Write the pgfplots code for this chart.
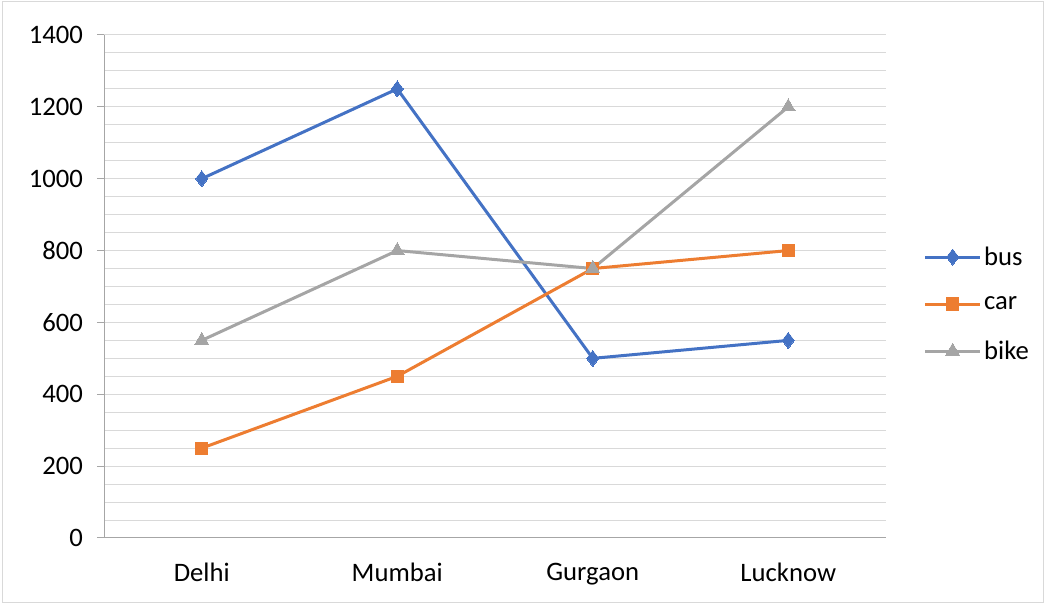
\documentclass[border=0pt]{standalone}
\usepackage{fontspec}
\setmainfont{Carlito}
\usepackage{pgfplots}
\pgfplotsset{compat=1.18}
\definecolor{cbus}{HTML}{4472C4}
\definecolor{ccar}{HTML}{ED7D31}
\definecolor{cbike}{HTML}{A5A5A5}
\definecolor{cgrid}{HTML}{D9D9D9}
\definecolor{caxis}{HTML}{A6A6A6}
\begin{document}
\begin{tikzpicture}
\path[use as bounding box] (0,0) rectangle (783.75pt,453.75pt);
\draw[cgrid, line width=0.75pt] (1.5pt,1.5pt) rectangle (782.25pt,452.25pt);
\begin{axis}[
  at={(78pt,50.25pt)}, anchor=south west,
  scale only axis, width=586.5pt, height=377.25pt,
  xmin=-0.5, xmax=3.5, ymin=0, ymax=1400,
  xtick={0,1,2,3}, xticklabels={Delhi,Mumbai,Gurgaon,Lucknow},
  minor xtick={-0.5,0.5,1.5,2.5,3.5},
  ytick={0,200,...,1400}, minor ytick={50,100,...,1350},
  ymajorgrids, yminorgrids,
  major grid style={cgrid, line width=0.75pt},
  minor grid style={cgrid, line width=0.75pt},
  axis x line*=bottom, axis y line*=left,
  axis line style={caxis, line width=0.75pt},
  tick align=outside,
  x tick style={draw=none},
  minor x tick style={caxis, line width=0.75pt},
  y tick style={caxis, line width=0.75pt},
  minor y tick style={draw=none},
  major tick length=5.25pt, minor tick length=6pt,
  /pgf/number format/assume math mode=true,
  /pgf/number format/1000 sep={},
  ticklabel style={font=\fontsize{20}{24}\selectfont, text=black},
  yticklabel style={xshift=-7pt},
  xticklabel style={yshift=-10pt},
  legend style={at={(1.048,0.465)}, anchor=west, draw=none, fill=none,
    font=\fontsize{20}{24}\selectfont, row sep=18pt, inner sep=0pt},
  legend cell align=left,
  legend image code/.code={\draw[mark repeat=2,mark phase=2,#1] plot coordinates {(0pt,0pt) (20.5pt,0pt) (41pt,0pt)};},
  every axis plot/.append style={line width=2.25pt},
]
\addplot[cbus, mark=diamond*, mark size=6pt, mark options={solid, line width=0pt}] coordinates {(0,1000) (1,1250) (2,500) (3,550)};
\addlegendentry{bus}
\addplot[ccar, mark=square*, mark size=4.6pt, mark options={solid, line width=0pt}] coordinates {(0,250) (1,450) (2,750) (3,800)};
\addlegendentry{car}
\addplot[cbike, mark=triangle*, mark size=6pt, mark options={solid, line width=0pt}] coordinates {(0,550) (1,800) (2,750) (3,1200)};
\addlegendentry{bike}
\end{axis}
\end{tikzpicture}
\end{document}
